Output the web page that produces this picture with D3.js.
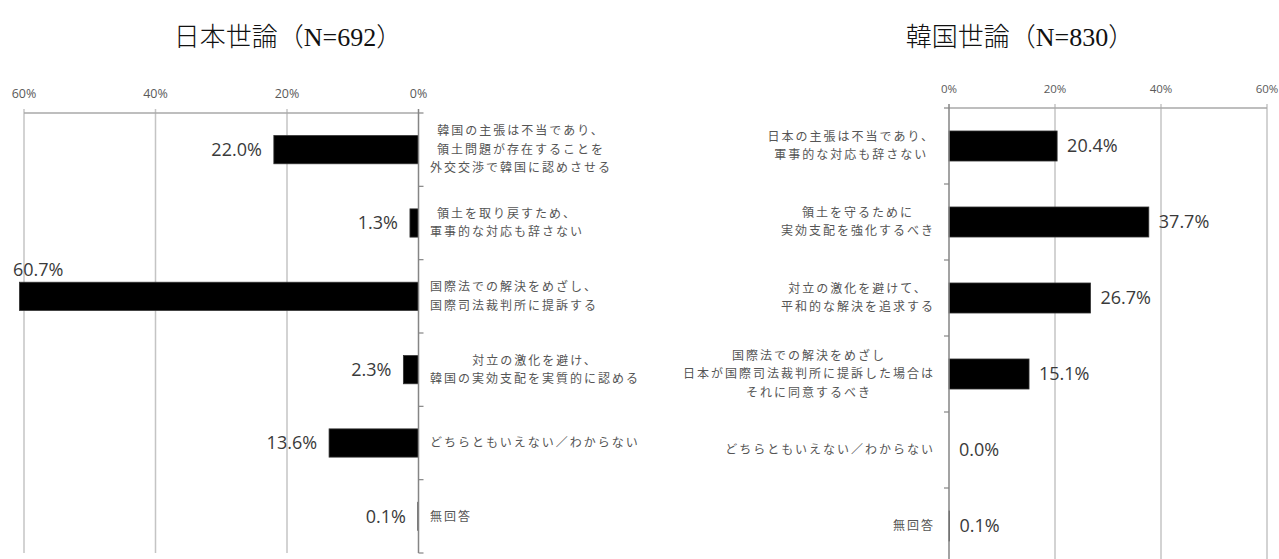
<!DOCTYPE html>
<html><head><meta charset="utf-8">
<script src="https://cdn.jsdelivr.net/npm/d3@7"></script>
<style>body{margin:0;background:#fff} svg{display:block}</style>
</head><body>
<svg id="c" width="1279" height="559"></svg>
<script>
const jpTitle = "日本世論（N=692）";
const krTitle = "韓国世論（N=830）";
const jpCategories = [
  "韓国の主張は不当であり、\n領土問題が存在することを\n外交交渉で韓国に認めさせる",
  "領土を取り戻すため、\n軍事的な対応も辞さない",
  "国際法での解決をめざし、\n国際司法裁判所に提訴する",
  "対立の激化を避け、\n韓国の実効支配を実質的に認める",
  "どちらともいえない／わからない",
  "無回答"
];
const jpValues = [22.0, 1.3, 60.7, 2.3, 13.6, 0.1];
const krCategories = [
  "日本の主張は不当であり、\n軍事的な対応も辞さない",
  "領土を守るために\n実効支配を強化するべき",
  "対立の激化を避けて、\n平和的な解決を追求する",
  "国際法での解決をめざし\n日本が国際司法裁判所に提訴した場合は\nそれに同意するべき",
  "どちらともいえない／わからない",
  "無回答"
];
const krValues = [20.4, 37.7, 26.7, 15.1, 0.0, 0.1];
const tickValues = [0, 20, 40, 60];

const svg = d3.select("#c");
const serif = "'Liberation Serif','Noto Sans CJK JP',serif";
const jpFont = "'Noto Sans CJK JP',sans-serif";
const numFont = "'Open Sans','Liberation Sans',sans-serif";

function drawPanel(cfg) {
  const g = svg.append("g");
  const x = d3.scaleLinear().domain([0, 60]).range(cfg.xRange);
  const y = d3.scaleBand().domain(d3.range(cfg.categories.length))
    .range(cfg.yRange).paddingInner(cfg.pad).paddingOuter(cfg.pad / 2);
  const [y0, y1] = cfg.yRange;
  const step = y.step();

  // title
  g.append("text").attr("x", cfg.titleX).attr("y", 46)
    .attr("text-anchor", "middle").attr("font-family", serif)
    .attr("font-size", 26).attr("font-weight", 300).attr("fill", "#111")
    .text(cfg.title);

  // gridlines
  g.selectAll(".grid").data(tickValues.filter(d => d !== 0)).join("line")
    .attr("x1", d => x(d)).attr("x2", d => x(d)).attr("y1", y0 - 4).attr("y2", y1)
    .attr("stroke", "#c4c4c4").attr("stroke-width", 1.5);
  // top line
  g.append("line").attr("x1", x(60)).attr("x2", x(0)).attr("y1", y0).attr("y2", y0)
    .attr("stroke", "#a8a8a8").attr("stroke-width", 1.5);
  // tick labels
  g.selectAll(".tl").data(tickValues).join("text")
    .attr("x", d => x(d)).attr("y", y0 - 19).attr("dy", "0.35em")
    .attr("text-anchor", "middle").attr("font-family", numFont)
    .attr("font-size", cfg.tickFont).attr("fill", "#5a5a5a")
    .text(d => d + "%");

  // bars
  g.selectAll(".bar").data(cfg.values).join("rect")
    .attr("x", d => Math.min(x(0), x(d)))
    .attr("width", d => Math.abs(x(d) - x(0)))
    .attr("y", (d, i) => y(i)).attr("height", y.bandwidth())
    .attr("fill", "#000").attr("stroke", "#333").attr("stroke-width", 0.8);

  // vertical axis
  g.append("line").attr("x1", x(0)).attr("x2", x(0)).attr("y1", y0 - 4).attr("y2", y1)
    .attr("stroke", "#858585").attr("stroke-width", 1.5);
  g.selectAll(".vt").data(d3.range(cfg.categories.length + 1)).join("line")
    .attr("x1", x(0)).attr("x2", x(0) + cfg.tickDir * 5)
    .attr("y1", d => y0 + d * step).attr("y2", d => y0 + d * step)
    .attr("stroke", "#858585").attr("stroke-width", 1.2);

  // value labels
  cfg.values.forEach((v, i) => {
    const cy = y(i) + y.bandwidth() / 2;
    const t = g.append("text").attr("font-family", numFont).attr("font-size", 18)
      .attr("fill", "#3a3a3a").attr("dy", "0.35em").text(v.toFixed(1) + "%");
    if (cfg.side === "left") {
      const xe = x(v) - 12;
      const w = t.node().getComputedTextLength();
      if (xe - w < 0) {
        t.attr("x", 13).attr("y", y(i) - 13).attr("text-anchor", "start");
      } else {
        t.attr("x", xe).attr("y", cy).attr("text-anchor", "end");
      }
    } else {
      t.attr("x", x(v) + 10).attr("y", cy).attr("text-anchor", "start");
    }
  });

  // category labels
  cfg.categories.forEach((c, i) => {
    const lines = c.split("\n");
    const lh = 18.5;
    const cy = y(i) + y.bandwidth() / 2;
    const texts = lines.map((ln, k) => g.append("text")
      .attr("font-family", jpFont).attr("font-size", 12).attr("letter-spacing", 2)
      .attr("fill", "#555").attr("dy", "0.35em").attr("text-anchor", "middle")
      .attr("y", cy + (k - (lines.length - 1) / 2) * lh).text(ln));
    const maxW = d3.max(texts, t => t.node().getComputedTextLength());
    const center = cfg.side === "left" ? cfg.labelEdge + maxW / 2 : cfg.labelEdge - maxW / 2;
    texts.forEach(t => t.attr("x", center));
  });
}

drawPanel({
  side: "left", title: jpTitle, titleX: 288,
  categories: jpCategories, values: jpValues,
  xRange: [418.5, 24], yRange: [113, 553], pad: 0.615,
  tickFont: 12.5, tickDir: 1, labelEdge: 430
});
drawPanel({
  side: "right", title: krTitle, titleX: 1020,
  categories: krCategories, values: krValues,
  xRange: [949, 1267], yRange: [108, 564], pad: 0.605,
  tickFont: 11.5, tickDir: -1, labelEdge: 935
});
</script>
</body></html>
